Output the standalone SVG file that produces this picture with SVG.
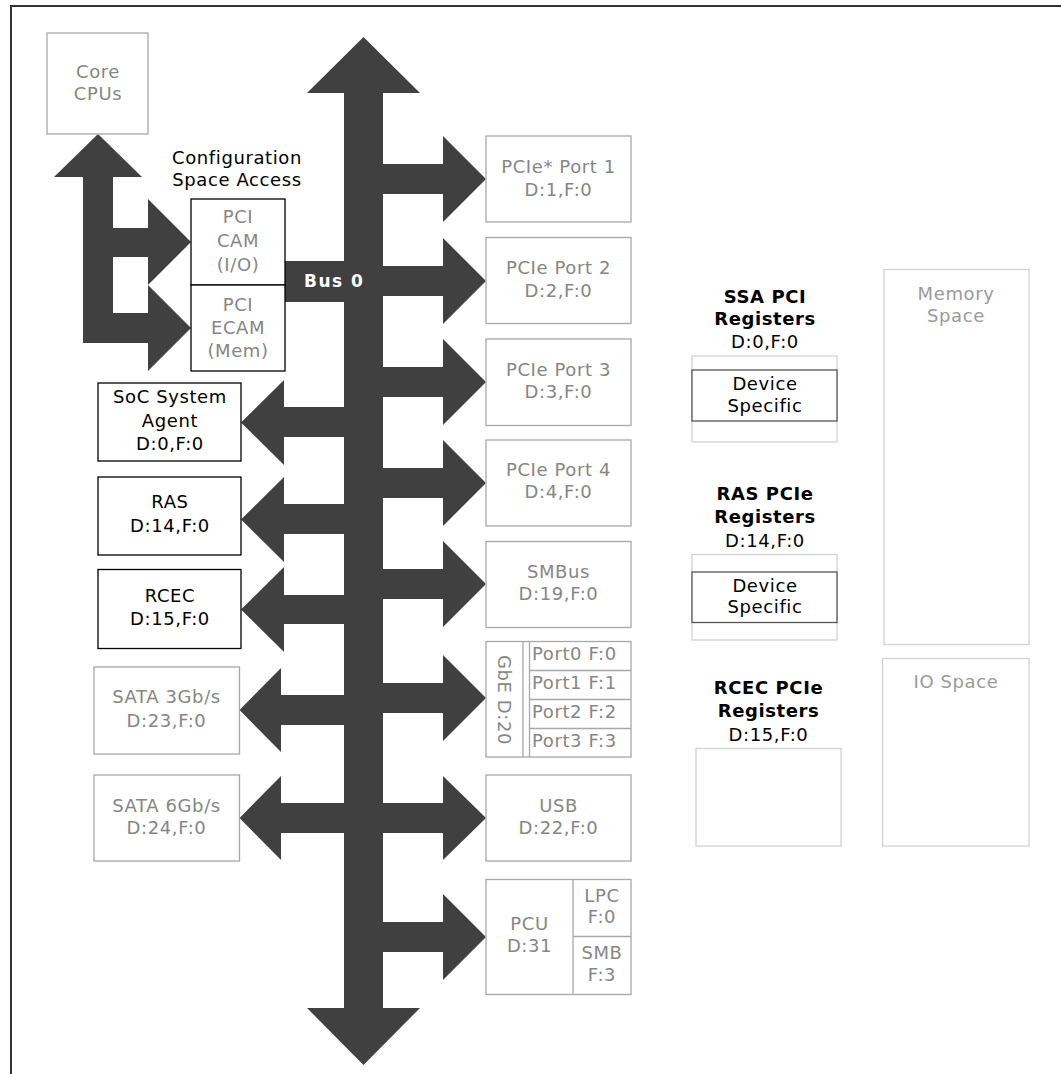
<svg xmlns="http://www.w3.org/2000/svg" width="1061" height="1074" viewBox="0 0 1061 1074">
<style>
text{font-family:"DejaVu Sans","Liberation Sans",sans-serif;font-size:18px;letter-spacing:0.6px;text-anchor:middle}
.g{fill:#868686}
.k{fill:#000}
.lt{fill:#9a9a9a}
.b{font-weight:bold}
.bus{font-weight:bold;fill:#fff;font-size:17px;letter-spacing:1.5px;text-anchor:start}
.st{text-anchor:start}
.gb{fill:#fff;stroke:#a8a8a8;stroke-width:1.3}
.kb{fill:#fff;stroke:#000;stroke-width:1.3}
.lb{fill:#fff;stroke:#d2d2d2;stroke-width:1.3}
.db{fill:#fff;stroke:#555;stroke-width:1.3}
.ln{stroke:#a8a8a8;stroke-width:1.3;fill:none}
.a{fill:#404040}
</style>
<g id="frame">
<line x1="10" y1="6" x2="1061" y2="6" stroke="#333" stroke-width="2"/>
<line x1="11" y1="5" x2="11" y2="1074" stroke="#333" stroke-width="2"/>
</g>
<g id="connectors">
<!-- main bus -->
<rect class="a" x="344" y="92" width="39" height="917"/>
<polygon class="a" points="307,93 363.5,37 420,93"/>
<polygon class="a" points="307,1008 363.5,1065 420,1008"/>
<!-- bus 0 bar -->
<rect class="a" x="285" y="261" width="60" height="41"/>
<!-- right arrows -->
<g id="r1"><rect class="a" x="382" y="164" width="62" height="30"/><polygon class="a" points="443,136 486,179 443,222"/></g>
<g id="r2"><rect class="a" x="382" y="266" width="62" height="30"/><polygon class="a" points="443,238 486,281 443,324"/></g>
<g id="r3"><rect class="a" x="382" y="367" width="62" height="30"/><polygon class="a" points="443,339 486,382 443,425"/></g>
<g id="r4"><rect class="a" x="382" y="468" width="62" height="30"/><polygon class="a" points="443,440 486,483 443,526"/></g>
<g id="r5"><rect class="a" x="382" y="569" width="62" height="30"/><polygon class="a" points="443,541 486,584 443,627"/></g>
<g id="r6"><rect class="a" x="382" y="683" width="62" height="30"/><polygon class="a" points="443,655 486,698 443,741"/></g>
<g id="r7"><rect class="a" x="382" y="803" width="62" height="30"/><polygon class="a" points="443,776 486,818 443,860"/></g>
<g id="r8"><rect class="a" x="382" y="922" width="62" height="30"/><polygon class="a" points="443,894 486,937 443,980"/></g>
<!-- left arrows -->
<g id="l1"><rect class="a" x="283" y="407" width="62" height="30"/><polygon class="a" points="284,380 241,422.5 284,465"/></g>
<g id="l2"><rect class="a" x="283" y="504" width="62" height="30"/><polygon class="a" points="284,477 241,519.5 284,562"/></g>
<g id="l3"><rect class="a" x="283" y="595" width="62" height="29"/><polygon class="a" points="284,567 241,609.5 284,652"/></g>
<g id="l4"><rect class="a" x="280" y="695" width="65" height="30"/><polygon class="a" points="281,668 239.5,710 281,752"/></g>
<g id="l5"><rect class="a" x="280" y="803" width="65" height="30"/><polygon class="a" points="281,776 239.5,818 281,860"/></g>
<!-- config access tree -->
<g id="cfg">
<polygon class="a" points="54,177 98,134 142,177"/>
<rect class="a" x="83" y="176" width="30" height="167"/>
<rect class="a" x="112" y="228" width="37" height="29"/>
<polygon class="a" points="148,199 191,242 148,285"/>
<rect class="a" x="112" y="313" width="37" height="30"/>
<polygon class="a" points="148,285 191,328 148,371"/>
</g>
</g>
<g id="core-cpus">
<rect class="gb" x="47" y="33" width="101" height="101"/>
<text class="g" x="98" y="78">Core</text>
<text class="g" x="98" y="100">CPUs</text>
</g>
<g id="config-label">
<text class="k" x="237" y="164">Configuration</text>
<text class="k" x="237" y="186">Space Access</text>
</g>
<g id="pci-cam">
<rect class="kb" x="191" y="199" width="94" height="86"/>
<text class="g" x="238" y="223">PCI</text>
<text class="g" x="238" y="247">CAM</text>
<text class="g" x="238" y="271">(I/O)</text>
</g>
<g id="pci-ecam">
<rect class="kb" x="191" y="285" width="94" height="86"/>
<text class="g" x="238" y="311">PCI</text>
<text class="g" x="238" y="334">ECAM</text>
<text class="g" x="238" y="357">(Mem)</text>
</g>
<g id="bus0-label">
<text class="bus" x="304" y="287">Bus 0</text>
</g>
<g id="soc-agent">
<rect class="kb" x="98" y="383" width="143" height="78"/>
<text class="k" x="170" y="403">SoC System</text>
<text class="k" x="170" y="427">Agent</text>
<text class="k" x="170" y="450">D:0,F:0</text>
</g>
<g id="ras">
<rect class="kb" x="98" y="477" width="143" height="78"/>
<text class="k" x="170" y="508">RAS</text>
<text class="k" x="170" y="531.5">D:14,F:0</text>
</g>
<g id="rcec">
<rect class="kb" x="98" y="569.5" width="143" height="79"/>
<text class="k" x="170" y="602">RCEC</text>
<text class="k" x="170" y="625">D:15,F:0</text>
</g>
<g id="sata3">
<rect class="gb" x="94" y="667" width="145.5" height="87"/>
<text class="g" x="166.5" y="703">SATA 3Gb/s</text>
<text class="g" x="166.5" y="726.5">D:23,F:0</text>
</g>
<g id="sata6">
<rect class="gb" x="94" y="775" width="145.5" height="86"/>
<text class="g" x="166.5" y="811.5">SATA 6Gb/s</text>
<text class="g" x="166.5" y="834">D:24,F:0</text>
</g>
<g id="pcie1">
<rect class="gb" x="486" y="136" width="145" height="86"/>
<text class="g" x="558.5" y="172.5">PCIe* Port 1</text>
<text class="g" x="558.5" y="196">D:1,F:0</text>
</g>
<g id="pcie2">
<rect class="gb" x="486" y="237.5" width="145" height="86"/>
<text class="g" x="558.5" y="274">PCIe Port 2</text>
<text class="g" x="558.5" y="296.5">D:2,F:0</text>
</g>
<g id="pcie3">
<rect class="gb" x="486" y="339" width="145" height="86.5"/>
<text class="g" x="558.5" y="376">PCIe Port 3</text>
<text class="g" x="558.5" y="398">D:3,F:0</text>
</g>
<g id="pcie4">
<rect class="gb" x="486" y="440" width="145" height="86"/>
<text class="g" x="558.5" y="476">PCIe Port 4</text>
<text class="g" x="558.5" y="498">D:4,F:0</text>
</g>
<g id="smbus">
<rect class="gb" x="486" y="541.5" width="145" height="86"/>
<text class="g" x="558.5" y="578">SMBus</text>
<text class="g" x="558.5" y="600">D:19,F:0</text>
</g>
<g id="gbe">
<rect class="gb" x="486" y="641.5" width="145" height="115.5"/>
<line class="ln" x1="523" y1="641.5" x2="523" y2="757"/>
<line class="ln" x1="529.5" y1="641.5" x2="529.5" y2="757"/>
<line class="ln" x1="529.5" y1="670.5" x2="631" y2="670.5"/>
<line class="ln" x1="529.5" y1="699.5" x2="631" y2="699.5"/>
<line class="ln" x1="529.5" y1="728.5" x2="631" y2="728.5"/>
<text class="g" x="0" y="0" transform="translate(498,700) rotate(90)">GbE D:20</text>
<text class="g st" x="532" y="659.5">Port0 F:0</text>
<text class="g st" x="532" y="689">Port1 F:1</text>
<text class="g st" x="532" y="718">Port2 F:2</text>
<text class="g st" x="532" y="747">Port3 F:3</text>
</g>
<g id="usb">
<rect class="gb" x="486" y="775" width="145" height="86"/>
<text class="g" x="558.5" y="811.5">USB</text>
<text class="g" x="558.5" y="834">D:22,F:0</text>
</g>
<g id="pcu">
<rect class="gb" x="486" y="879.5" width="145" height="115"/>
<line class="ln" x1="573" y1="879.5" x2="573" y2="994.5"/>
<line class="ln" x1="573" y1="936.5" x2="631" y2="936.5"/>
<text class="g" x="529.5" y="930">PCU</text>
<text class="g" x="529.5" y="951.5">D:31</text>
<text class="g" x="602" y="901.5">LPC</text>
<text class="g" x="602" y="923">F:0</text>
<text class="g" x="602" y="959">SMB</text>
<text class="g" x="602" y="981">F:3</text>
</g>
<g id="ssa-regs">
<text class="k b" x="765" y="302.5">SSA PCI</text>
<text class="k b" x="765" y="325">Registers</text>
<text class="k" x="765" y="348">D:0,F:0</text>
<rect class="lb" x="692" y="356" width="145" height="86"/>
<rect class="db" x="692" y="370" width="145" height="51"/>
<text class="k" x="765" y="390">Device</text>
<text class="k" x="765" y="411.5">Specific</text>
</g>
<g id="ras-regs">
<text class="k b" x="765" y="500">RAS PCIe</text>
<text class="k b" x="765" y="523">Registers</text>
<text class="k" x="765" y="546.5">D:14,F:0</text>
<rect class="lb" x="692" y="554.5" width="145" height="85.5"/>
<rect class="db" x="692" y="572" width="145" height="50.5"/>
<text class="k" x="765" y="591.5">Device</text>
<text class="k" x="765" y="613">Specific</text>
</g>
<g id="rcec-regs">
<text class="k b" x="768.5" y="694">RCEC PCIe</text>
<text class="k b" x="768.5" y="717">Registers</text>
<text class="k" x="768.5" y="740.5">D:15,F:0</text>
<rect class="lb" x="696" y="748.5" width="145" height="97.5"/>
</g>
<g id="memory-space">
<rect class="lb" x="884" y="269.5" width="145" height="375"/>
<text class="lt" x="956" y="300">Memory</text>
<text class="lt" x="956" y="322">Space</text>
</g>
<g id="io-space">
<rect class="lb" x="882.5" y="658.5" width="146.5" height="187.5"/>
<text class="lt" x="956" y="688">IO Space</text>
</g>
</svg>
